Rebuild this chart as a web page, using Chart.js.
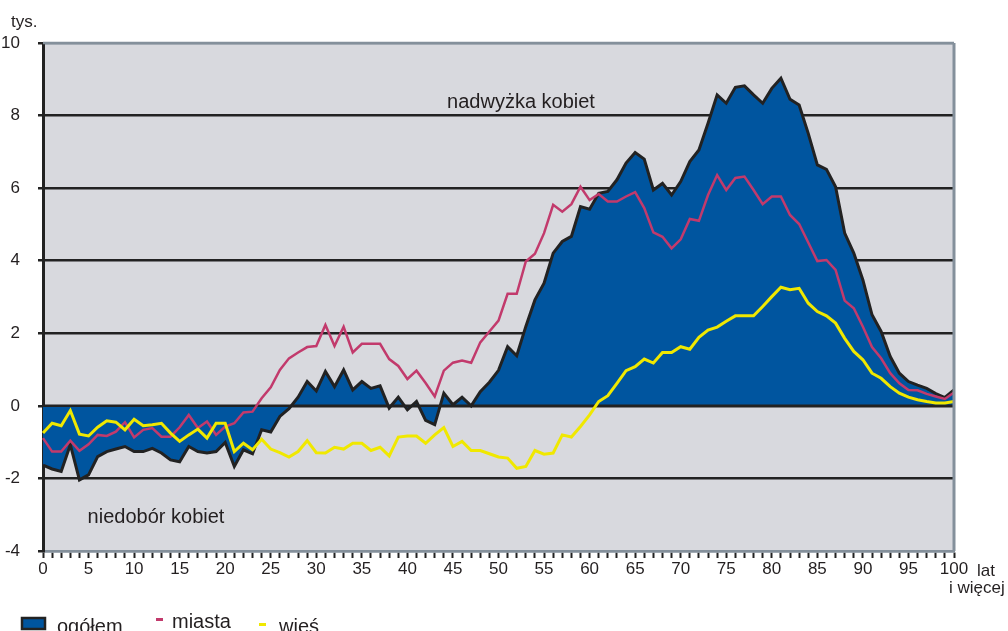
<!DOCTYPE html>
<html>
<head>
<meta charset="utf-8">
<script src="https://cdn.jsdelivr.net/npm/chart.js@4"></script>
<style>
  html, body { margin: 0; padding: 0; background: #ffffff; }
  #wrap { width: 1008px; height: 631px; }
</style>
</head>
<body>
<div id="wrap"><canvas id="c" width="1008" height="631"></canvas></div>
<script>
const ages = [0,1,2,3,4,5,6,7,8,9,10,11,12,13,14,15,16,17,18,19,20,21,22,23,24,25,26,27,28,29,30,31,32,33,34,35,36,37,38,39,40,41,42,43,44,45,46,47,48,49,50,51,52,53,54,55,56,57,58,59,60,61,62,63,64,65,66,67,68,69,70,71,72,73,74,75,76,77,78,79,80,81,82,83,84,85,86,87,88,89,90,91,92,93,94,95,96,97,98,99,100];

const ogolem = [-1.63,-1.74,-1.81,-1.07,-2.04,-1.90,-1.40,-1.26,-1.19,-1.12,
  -1.26,-1.26,-1.17,-1.30,-1.49,-1.54,-1.12,-1.26,-1.30,-1.26,
  -1.01,-1.67,-1.21,-1.32,-0.66,-0.72,-0.29,-0.08,0.24,0.67,
  0.41,0.95,0.53,0.99,0.44,0.67,0.48,0.55,-0.06,0.24,
  -0.11,0.12,-0.40,-0.52,0.35,0.03,0.24,0.00,0.39,0.65,
  0.98,1.63,1.38,2.19,2.92,3.38,4.21,4.53,4.67,5.49,
  5.42,5.86,5.91,6.23,6.69,6.98,6.80,5.95,6.13,5.81,
  6.18,6.73,7.05,7.79,8.57,8.34,8.78,8.82,8.57,8.34,
  8.75,9.03,8.45,8.29,7.51,6.64,6.52,6.04,4.76,4.21,
  3.47,2.51,2.05,1.36,0.90,0.67,0.57,0.48,0.34,0.23,0.44];

const miasta = [-0.89,-1.26,-1.26,-0.96,-1.24,-1.06,-0.80,-0.83,-0.71,-0.45,
  -0.87,-0.66,-0.61,-0.85,-0.85,-0.59,-0.25,-0.61,-0.43,-0.80,
  -0.57,-0.48,-0.18,-0.16,0.21,0.51,0.99,1.31,1.47,1.62,
  1.65,2.23,1.65,2.18,1.47,1.71,1.71,1.71,1.29,1.10,
  0.74,0.97,0.63,0.26,0.97,1.19,1.25,1.19,1.75,2.05,
  2.35,3.09,3.09,3.98,4.19,4.76,5.54,5.35,5.56,6.04,
  5.67,5.84,5.63,5.63,5.77,5.89,5.45,4.78,4.66,4.34,
  4.59,5.15,5.10,5.81,6.36,5.95,6.28,6.32,5.95,5.56,
  5.77,5.77,5.26,5.01,4.50,3.99,4.02,3.75,2.90,2.69,
  2.18,1.62,1.31,0.90,0.62,0.44,0.43,0.33,0.26,0.19,0.37];

const wies = [-0.75,-0.48,-0.55,-0.13,-0.78,-0.83,-0.59,-0.41,-0.45,-0.66,
  -0.37,-0.55,-0.52,-0.48,-0.75,-0.98,-0.80,-0.64,-0.89,-0.48,
  -0.48,-1.26,-1.03,-1.21,-0.92,-1.19,-1.29,-1.41,-1.26,-0.96,
  -1.29,-1.30,-1.14,-1.19,-1.03,-1.03,-1.23,-1.14,-1.38,-0.86,
  -0.83,-0.83,-1.03,-0.80,-0.60,-1.12,-0.98,-1.23,-1.23,-1.32,
  -1.41,-1.44,-1.72,-1.67,-1.23,-1.33,-1.30,-0.80,-0.86,-0.57,
  -0.25,0.12,0.28,0.62,0.97,1.08,1.29,1.18,1.47,1.47,
  1.63,1.56,1.89,2.09,2.17,2.33,2.48,2.48,2.48,2.74,
  3.01,3.27,3.20,3.24,2.83,2.60,2.48,2.28,1.86,1.50,
  1.27,0.90,0.76,0.53,0.35,0.24,0.17,0.12,0.08,0.08,0.12];

const seriesNames = ['ogółem', 'miasta', 'wieś'];
const yMin = -4, yMax = 10, yStep = 2;

const FONT = "'Liberation Sans', Arial, Helvetica, sans-serif";
const TXT = '#231f20';
const BLUE = '#00559f';
const PINK = '#c23a6c';
const YEL = '#f0e800';
const GRID = '#222222';
const FRAME = '#84909b';

Chart.defaults.font.family = FONT;
Chart.defaults.color = TXT;

const decor = {
  id: 'decor',
  beforeDraw(chart) {
    const a = chart.chartArea, c = chart.ctx;
    c.save();
    c.fillStyle = '#d8d9de';
    c.fillRect(a.left, a.top, a.right - a.left, a.bottom - a.top);
    c.restore();
  },
  afterDatasetDraw(chart, args) {
    if (args.index !== 0) return;
    const a = chart.chartArea, c = chart.ctx;
    const y0 = chart.scales.y.getPixelForValue(0);
    c.save();
    c.strokeStyle = GRID;
    c.lineWidth = 2.5;
    c.beginPath();
    c.moveTo(a.left, y0);
    c.lineTo(a.right, y0);
    c.stroke();
    c.restore();
  },
  afterDraw(chart) {
    const a = chart.chartArea, c = chart.ctx;
    c.save();
    // frame top and right
    c.strokeStyle = FRAME;
    c.lineWidth = 2.5;
    c.beginPath();
    c.moveTo(a.left, a.top);
    c.lineTo(a.right, a.top);
    c.stroke();
    c.lineWidth = 3;
    c.beginPath();
    c.moveTo(a.right, a.top);
    c.lineTo(a.right, a.bottom);
    c.stroke();

    c.fillStyle = TXT;
    c.textBaseline = 'alphabetic';
    c.textAlign = 'left';
    c.font = '17px ' + FONT;
    c.fillText('tys.', 11, 27);
    c.fillText('lat', 977, 576);
    c.fillText('i więcej', 949, 593);

    c.font = '20px ' + FONT;
    c.textAlign = 'center';
    c.fillText('nadwyżka kobiet', 521, 108);
    c.fillText('niedobór kobiet', 156, 523);

    // legend
    c.textAlign = 'left';
    c.fillStyle = BLUE;
    c.fillRect(22, 618, 23, 11);
    c.strokeStyle = GRID;
    c.lineWidth = 2.5;
    c.strokeRect(22, 618, 23, 11);
    c.fillStyle = TXT;
    c.fillText(seriesNames[0], 57, 633);
    c.fillStyle = PINK;
    c.fillRect(156, 618, 7, 3);
    c.fillStyle = TXT;
    c.fillText(seriesNames[1], 172, 628);
    c.fillStyle = YEL;
    c.fillRect(259, 623, 7, 3);
    c.fillStyle = TXT;
    c.fillText(seriesNames[2], 279, 633);
    c.restore();
  }
};

new Chart(document.getElementById('c'), {
  type: 'line',
  data: {
    labels: ages,
    datasets: [
      { label: seriesNames[0], data: ogolem, order: 2, fill: 'origin',
        backgroundColor: BLUE, borderColor: GRID, borderWidth: 3,
        pointRadius: 0, tension: 0, borderJoinStyle: 'miter' },
      { label: seriesNames[1], data: miasta, order: 1, fill: false,
        borderColor: PINK, borderWidth: 2.5, pointRadius: 0, tension: 0 },
      { label: seriesNames[2], data: wies, order: 0, fill: false,
        borderColor: YEL, borderWidth: 3, pointRadius: 0, tension: 0 }
    ]
  },
  options: {
    responsive: false,
    devicePixelRatio: 1,
    animation: false,
    layout: { padding: { top: 43, right: 54, left: 0, bottom: 0 } },
    plugins: { legend: { display: false }, tooltip: { enabled: false } },
    scales: {
      x: {
        type: 'category',
        offset: false,
        afterFit(s) { s.height = 80; },
        grid: { display: true, drawOnChartArea: false, drawTicks: true,
                tickLength: 7, tickColor: GRID, tickWidth: 2, offset: false },
        border: { display: true, color: FRAME, width: 2.5 },
        ticks: {
          autoSkip: false, maxRotation: 0, minRotation: 0, padding: 1,
          font: { size: 17 }, color: TXT,
          callback(v, i) { return ages[i] % 5 === 0 ? String(ages[i]) : ''; }
        }
      },
      y: {
        min: yMin, max: yMax,
        afterFit(s) { s.width = 43; },
        grid: {
          color(ctx) { const v = ctx.tick && ctx.tick.value; return (v === yMin || v === yMax) ? FRAME : GRID; },
          lineWidth: 2.5, drawTicks: true, tickLength: 5, tickColor: GRID, tickWidth: 2.5
        },
        border: { display: true, color: GRID, width: 3 },
        ticks: { stepSize: yStep, padding: 18, font: { size: 17 }, color: TXT }
      }
    }
  },
  plugins: [decor]
});
</script>
</body>
</html>
